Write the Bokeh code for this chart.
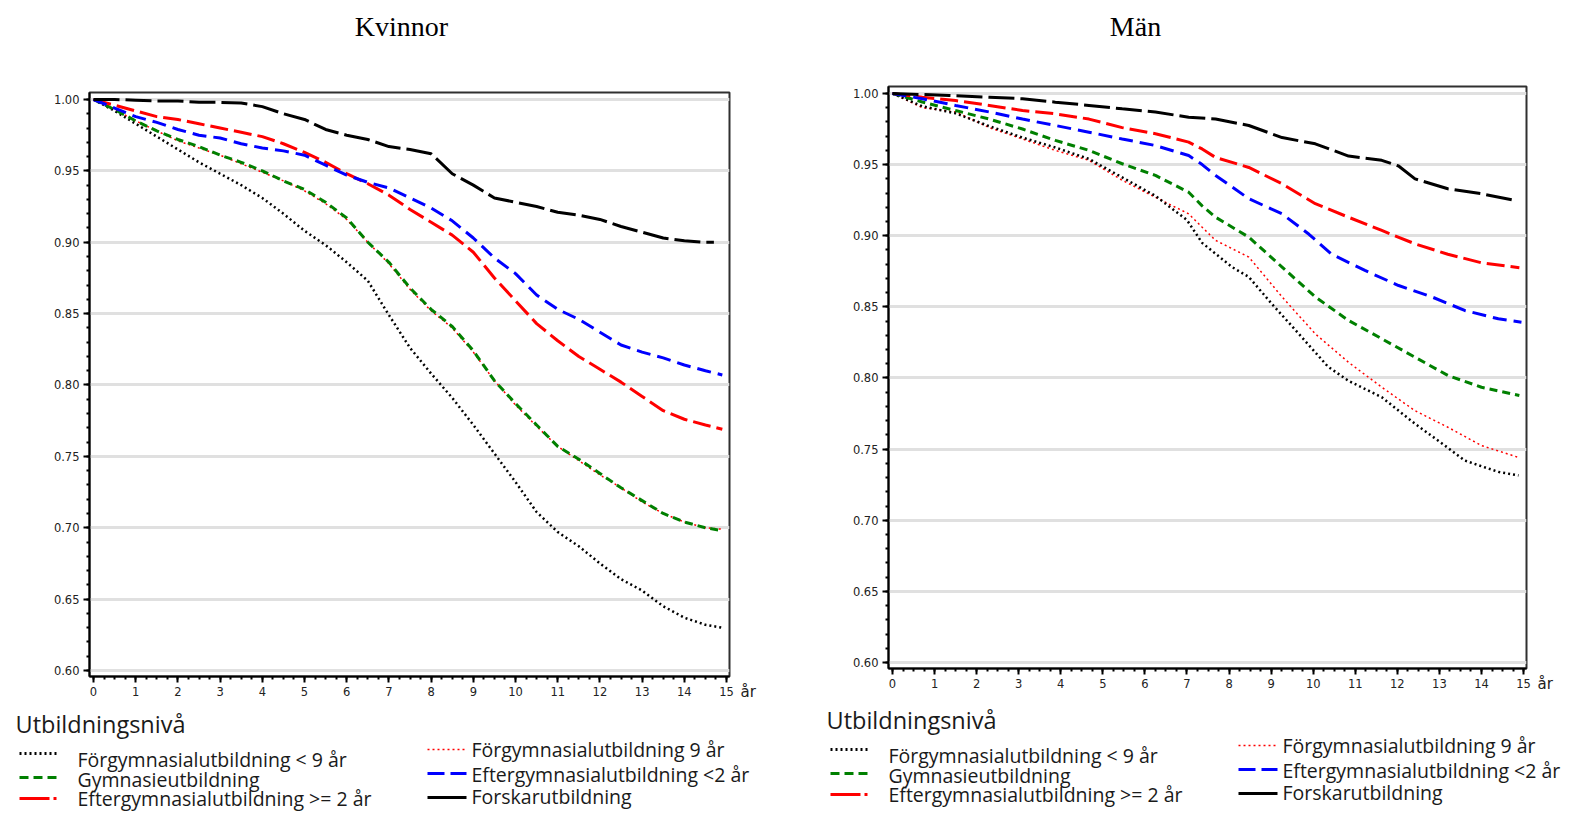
from bokeh.plotting import figure
from bokeh.layouts import row, column
from bokeh.models import Range1d, FixedTicker, PrintfTickFormatter, Label
from bokeh.core.properties import value
from bokeh.embed import file_html
from bokeh.resources import INLINE

# ---------------- data: survival by education level ----------------
# Kvinnor (women), half-year readings
k_t = [0, 0.5, 1, 1.5, 2, 2.5, 3, 3.5, 4, 4.5, 5, 5.5, 6, 6.5, 7, 7.5, 8, 8.5,
       9, 9.5, 10, 10.5, 11, 11.5, 12, 12.5, 13, 13.5, 14, 14.5, 14.9]
k_lt9 = [1.000, 0.992, 0.983, 0.974, 0.965, 0.956, 0.948, 0.940, 0.931, 0.920, 0.908,
         0.898, 0.886, 0.873, 0.849, 0.826, 0.808, 0.791, 0.772, 0.752, 0.732, 0.711,
         0.697, 0.687, 0.675, 0.664, 0.656, 0.645, 0.637, 0.632, 0.630]
k_9 = [1.000, 0.993, 0.985, 0.978, 0.971, 0.966, 0.961, 0.955, 0.949, 0.943, 0.936,
       0.927, 0.916, 0.900, 0.885, 0.867, 0.852, 0.840, 0.823, 0.803, 0.786, 0.771,
       0.757, 0.747, 0.737, 0.728, 0.718, 0.710, 0.704, 0.700, 0.699]
k_gym = [1.000, 0.993, 0.985, 0.978, 0.972, 0.967, 0.961, 0.956, 0.950, 0.943, 0.937,
         0.928, 0.917, 0.900, 0.886, 0.868, 0.853, 0.841, 0.824, 0.803, 0.787, 0.772,
         0.757, 0.748, 0.738, 0.728, 0.719, 0.710, 0.704, 0.700, 0.698]
k_lt2 = [1.000, 0.994, 0.988, 0.984, 0.979, 0.975, 0.973, 0.969, 0.966, 0.964, 0.961,
         0.954, 0.947, 0.942, 0.938, 0.931, 0.924, 0.915, 0.903, 0.889, 0.878, 0.863,
         0.853, 0.846, 0.837, 0.828, 0.823, 0.819, 0.814, 0.810, 0.807]
k_ge2 = [1.000, 0.996, 0.992, 0.988, 0.986, 0.983, 0.980, 0.977, 0.974, 0.969, 0.963,
         0.956, 0.948, 0.941, 0.933, 0.923, 0.914, 0.905, 0.893, 0.875, 0.859, 0.843,
         0.831, 0.820, 0.811, 0.802, 0.792, 0.782, 0.776, 0.772, 0.769]
k_forsk_t = [0, 0.5, 1, 1.5, 2, 2.5, 3, 3.5, 4, 4.5, 5, 5.5, 6, 6.5, 7, 7.5, 8, 8.5,
             9, 9.5, 10, 10.5, 11, 11.5, 12, 12.5, 13, 13.5, 14, 14.5, 14.7]
k_forsk = [1.000, 1.000, 0.9995, 0.999, 0.999, 0.998, 0.998, 0.9975, 0.995, 0.990, 0.986,
           0.979, 0.975, 0.972, 0.967, 0.965, 0.962, 0.948, 0.940, 0.931, 0.928, 0.925,
           0.921, 0.919, 0.916, 0.911, 0.907, 0.903, 0.901, 0.900, 0.900]

# Män (men)
m_t = [0, 0.71, 1.5, 2.3, 3.09, 3.87, 4.67, 5.46, 6.25, 7.04, 7.36, 7.68, 8.47, 9.26,
       10.05, 10.84, 11.63, 12.42, 13.2, 14.0, 14.9]
m_9 = [1.000, 0.990, 0.987, 0.976, 0.968, 0.960, 0.953, 0.939, 0.927, 0.9154, 0.906,
       0.8967, 0.885, 0.857, 0.831, 0.811, 0.7935, 0.777, 0.7654, 0.7525, 0.744]
m_gym = [1.000, 0.994, 0.988, 0.982, 0.975, 0.967, 0.960, 0.9506, 0.9424, 0.9306, 0.921,
         0.913, 0.899, 0.878, 0.857, 0.8404, 0.8276, 0.8146, 0.8018, 0.7935, 0.7877]
m_ge2 = [1.000, 0.9974, 0.995, 0.9916, 0.988, 0.9857, 0.982, 0.976, 0.9717, 0.9658, 0.961,
         0.955, 0.948, 0.9365, 0.9225, 0.913, 0.9037, 0.8943, 0.887, 0.881, 0.8775]
m_lt9_t = [0, 0.71, 1.5, 2.3, 3.09, 3.87, 4.67, 5.46, 6.25, 7.0, 7.36, 8.07, 8.47, 9.02,
           9.66, 10.35, 10.84, 11.63, 12.42, 13.2, 13.6, 14.4, 14.88]
m_lt9 = [1.000, 0.991, 0.986, 0.977, 0.969, 0.962, 0.954, 0.941, 0.928, 0.911, 0.895,
         0.878, 0.871, 0.852, 0.831, 0.808, 0.798, 0.7865, 0.7678, 0.751, 0.742, 0.734, 0.7315]
m_lt2_t = [0, 0.71, 1.5, 2.3, 3.09, 3.87, 4.67, 5.46, 6.25, 7.04, 7.36, 7.68, 8.47, 9.26,
           9.9, 10.44, 11.23, 12.03, 12.82, 13.6, 14.4, 14.95]
m_lt2 = [1.000, 0.9963, 0.9916, 0.987, 0.982, 0.9775, 0.9728, 0.968, 0.9634, 0.9564, 0.950,
         0.9424, 0.926, 0.9154, 0.901, 0.887, 0.8756, 0.865, 0.857, 0.8475, 0.8416, 0.8392]
m_forsk_t = [0, 1.35, 2.3, 3.09, 3.87, 4.67, 5.46, 6.25, 7.04, 7.68, 8.47, 9.26, 10.05,
             10.84, 11.63, 12.03, 12.42, 13.2, 14.0, 14.72]
m_forsk = [1.000, 0.9986, 0.9974, 0.9963, 0.9939, 0.9916, 0.9892, 0.9869, 0.9833, 0.982,
           0.9775, 0.969, 0.9646, 0.956, 0.953, 0.949, 0.940, 0.933, 0.9295, 0.9253]

# axis ticks
y_ticks = [0.60, 0.65, 0.70, 0.75, 0.80, 0.85, 0.90, 0.95, 1.00]
y_minor = [round(0.60 + 0.01 * i, 2) for i in range(41)]
x_ticks = list(range(0, 16))
x_minor = [0.25 * i for i in range(61)]

legend_title = "Utbildningsnivå"
legend_labels = ["Förgymnasialutbildning < 9 år", "Gymnasieutbildning",
                 "Eftergymnasialutbildning >= 2 år", "Förgymnasialutbildning 9 år",
                 "Eftergymnasialutbildning <2 år", "Forskarutbildning"]

# line styles: (colour, width, dash) for the curves
styles = {
    "lt9": ("#000000", 2.5, "2 3"),
    "9": ("#ff0000", 1.5, "2 3"),
    "gym": ("#008000", 3, "8 5"),
    "ge2": ("#ff0000", 3, "18 6"),
    "lt2": ("#0000ff", 3, "14 7"),
    "forsk": ("#000000", 3, "26 6"),
}
legend_dash = {"lt9": "2 3", "9": "2 3", "gym": "9 5", "ge2": "30 4",
               "lt2": "17 6", "forsk": "solid"}
legend_keys = ["lt9", "gym", "ge2", "9", "lt2", "forsk"]

YLO, YHI = 0.5958, 1.0049
XLO, XHI = -0.095, 15.07


def make_panel(series, width, height, borders, title, title_dx, title_dy):
    p = figure(width=width, height=height, x_range=Range1d(XLO, XHI),
               y_range=Range1d(YLO, YHI), output_backend="svg",
               toolbar_location=None, tools="", frame_align=False,
               min_border_left=borders[0], min_border_right=borders[1],
               min_border_top=borders[2], min_border_bottom=borders[3])
    p.background_fill_color = "white"
    p.border_fill_color = "white"
    p.outline_line_color = "#303030"
    p.outline_line_width = 2

    p.xgrid.visible = False
    yt = FixedTicker(ticks=y_ticks, minor_ticks=y_minor)
    p.yaxis.ticker = yt
    p.ygrid.ticker = yt
    p.ygrid.grid_line_color = "#e0e0e0"
    p.ygrid.grid_line_width = 3
    p.xaxis.ticker = FixedTicker(ticks=x_ticks, minor_ticks=x_minor)
    p.yaxis.formatter = PrintfTickFormatter(format="%.2f")

    for ax in (p.xaxis[0], p.yaxis[0]):
        ax.axis_line_color = "#000000"
        ax.axis_line_width = 2
        ax.major_tick_line_color = "#000000"
        ax.major_tick_line_width = 2
        ax.major_tick_out = 6
        ax.major_tick_in = 0
        ax.minor_tick_line_color = "#000000"
        ax.minor_tick_line_width = 2
        ax.minor_tick_out = 3
        ax.minor_tick_in = 0
        ax.major_label_text_font = "DejaVu Sans"
        ax.major_label_text_font_size = "11.5px"
        ax.major_label_text_color = "#222222"
        ax.major_label_standoff = 4

    for key, (t, y) in series:
        c, w, d = styles[key]
        p.line(t, y, line_color=c, line_width=w, line_dash=d)

    # panel heading above the frame
    p.add_layout(Label(x=XLO, y=YHI, x_offset=title_dx, y_offset=title_dy, text=title,
                       text_font="Liberation Serif", text_font_size="28px",
                       text_color="#000000", text_align="center",
                       text_baseline="middle"), "above")
    # unit label to the right of the last x tick
    p.add_layout(Label(x=15, y=YLO, x_offset=14, y_offset=-15, text="år",
                       text_font="DejaVu Sans", text_font_size="15px",
                       text_color="#222222", text_align="left",
                       text_baseline="middle"), "right")
    return p


def make_legend(left, top, width, height, dx, dy):
    # ranges in page pixels so entries can be laid out on the page grid
    q = figure(width=width, height=height, x_range=Range1d(left, left + width),
               y_range=Range1d(top + height, top), output_backend="svg",
               toolbar_location=None, tools="", frame_align=False,
               x_axis_type=None, y_axis_type=None, min_border=0)
    q.outline_line_color = None
    q.grid.visible = False
    q.background_fill_color = "white"
    q.border_fill_color = "white"

    q.text(x=[15 + dx], y=[723 + dy], text=[legend_title],
           text_font=value("Open Sans"), text_font_size="23.5px",
           text_color="#1a1a1a", text_baseline="alphabetic")

    # two columns of three entries
    col_sample_x = [(19, 56), (427, 466)]
    col_text_x = [77, 471]
    sample_y = [[753, 777, 798], [749, 773, 797]]
    text_y = [[759, 779, 798], [749, 774, 796]]
    for i, key in enumerate(legend_keys):
        col, r = divmod(i, 3)
        c, w, _ = styles[key]
        x0, x1 = col_sample_x[col]
        sy = sample_y[col][r] + dy
        q.line([x0 + dx, x1 + dx], [sy, sy], line_color=c,
               line_width=3 if key != "9" else 1.5, line_dash=legend_dash[key])
        q.text(x=[col_text_x[col] + dx], y=[text_y[col][r] + dy], text=[legend_labels[i]],
               text_font=value("Open Sans"), text_font_size="19.5px",
               text_color="#1a1a1a", text_baseline="alphabetic")
    return q


k_series = [("9", (k_t, k_9)), ("lt9", (k_t, k_lt9)), ("gym", (k_t, k_gym)),
            ("ge2", (k_t, k_ge2)), ("lt2", (k_t, k_lt2)), ("forsk", (k_forsk_t, k_forsk))]
m_series = [("9", (m_t, m_9)), ("lt9", (m_lt9_t, m_lt9)), ("gym", (m_t, m_gym)),
            ("ge2", (m_t, m_ge2)), ("lt2", (m_lt2_t, m_lt2)), ("forsk", (m_forsk_t, m_forsk))]

p_k = make_panel(k_series, 800, 706, (89, 71, 92, 30), "Kvinnor", 312, 66)
p_m = make_panel(m_series, 775, 698, (88, 49, 86, 30), "Män", 247, 60)
leg_k = make_legend(0, 706, 800, 107, 0, 0)
leg_m = make_legend(800, 698, 775, 115, 811, -4)

layout = row(column(p_k, leg_k, spacing=0), column(p_m, leg_m, spacing=0), spacing=0)

with open("out.html", "w") as f:
    f.write(file_html(layout, INLINE))
